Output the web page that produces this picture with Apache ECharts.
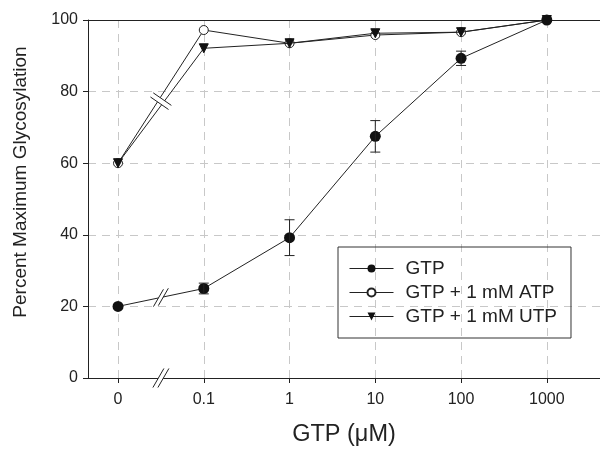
<!DOCTYPE html>
<html>
<head>
<meta charset="utf-8">
<script src="https://cdn.jsdelivr.net/npm/echarts@6/dist/echarts.min.js"></script>
<style>
  html, body { margin: 0; padding: 0; background: #fff; }
  #chart { width: 600px; height: 452px; }
</style>
</head>
<body>
<div id="chart"></div>
<script>
// x positions are evenly spaced (log steps), 0 sits left of an axis break
const xLabels = ['0', '0.1', '1', '10', '100', '1000']
const xPos = [0, 1, 2, 3, 4, 5]

const gtp = [20, 25, 39.2, 67.5, 89.3, 100]
const gtpErr = [0, 1.5, 5, 4.4, 2, 0]
const gtpAtp = [60, 97.2, 93.5, 95.8, 96.6, 100]
const gtpUtp = [60, 92.1, 93.5, 96.3, 96.6, 100]

const ink = '#222'
const font = 'Liberation Sans, Arial, sans-serif'

const chart = echarts.init(document.getElementById('chart'), null, { renderer: 'canvas' })

function pts(arr) {
  return arr.map((v, i) => [xPos[i], v])
}

const errData = gtp
  .map((v, i) => [xPos[i], v - gtpErr[i], v + gtpErr[i]])
  .filter((d, i) => gtpErr[i] > 0)

const option = {
  backgroundColor: '#fff',
  animation: false,
  textStyle: { fontFamily: font, color: ink },
  grid: { left: 88, right: -2, top: 20, bottom: 73 },
  legend: {
    orient: 'vertical',
    left: 338,
    top: 247,
    padding: [12, 14, 12, 11],
    itemGap: 5,
    itemWidth: 44,
    itemHeight: 10,
    borderColor: '#333',
    borderWidth: 1,
    lineStyle: { width: 1 },
    textStyle: { fontSize: 19, color: ink, padding: [0, 0, 0, 7] },
    data: ['GTP', 'GTP + 1 mM ATP', 'GTP + 1 mM UTP'],
  },
  xAxis: [
    {
      type: 'value',
      min: -0.35,
      max: 5.62,
      name: 'GTP (μM)',
      nameLocation: 'middle',
      nameGap: 45,
      nameTextStyle: { fontSize: 23.5, color: ink },
      axisLine: { lineStyle: { color: ink, width: 1 } },
      axisTick: { show: true, length: 5, lineStyle: { color: ink }, customValues: xPos },
      axisLabel: {
        fontSize: 16,
        color: ink,
        margin: 14,
        customValues: xPos,
        formatter: (v) => xLabels[Math.round(v)],
      },
      splitLine: { show: true, lineStyle: { color: '#c8c8c8', type: [8, 6] } },
    },
    {
      type: 'value',
      position: 'top',
      min: -0.35,
      max: 5.62,
      axisLine: { show: true, lineStyle: { color: ink, width: 1 } },
      axisTick: { show: false },
      axisLabel: { show: false },
      splitLine: { show: false },
    },
  ],
  yAxis: {
    type: 'value',
    min: 0,
    max: 100,
    interval: 20,
    name: 'Percent Maximum Glycosylation',
    nameLocation: 'middle',
    nameGap: 58,
    nameTextStyle: { fontSize: 19, color: ink, padding: [0, 0, 0, 34] },
    axisLine: { show: true, onZero: false, lineStyle: { color: ink, width: 1 } },
    axisTick: { show: true, length: 5, lineStyle: { color: ink } },
    axisLabel: { fontSize: 16, color: ink, margin: 10 },
    splitLine: { show: true, lineStyle: { color: '#c8c8c8', type: [8, 6] } },
  },
  series: [
    {
      name: 'GTP + 1 mM UTP',
      type: 'line',
      data: pts(gtpUtp),
      symbol: 'triangle',
      symbolRotate: 180,
      symbolSize: 9,
      lineStyle: { color: ink, width: 1 },
      itemStyle: { color: '#111', borderColor: '#111' },
      z: 3,
    },
    {
      name: 'GTP + 1 mM ATP',
      type: 'line',
      data: pts(gtpAtp),
      symbol: 'circle',
      symbolSize: 9,
      lineStyle: { color: ink, width: 1 },
      itemStyle: { color: '#fff', borderColor: ink, borderWidth: 1 },
      z: 2,
    },
    {
      name: 'GTP',
      type: 'line',
      data: pts(gtp),
      symbol: 'circle',
      symbolSize: 11,
      lineStyle: { color: ink, width: 1 },
      itemStyle: { color: '#111' },
      z: 4,
    },
    {
      name: 'err',
      type: 'custom',
      data: errData,
      z: 5,
      renderItem: (params, api) => {
        const lo = api.coord([api.value(0), api.value(1)])
        const hi = api.coord([api.value(0), api.value(2)])
        const w = 5
        const style = { stroke: ink, lineWidth: 1 }
        return {
          type: 'group',
          children: [
            { type: 'line', shape: { x1: lo[0], y1: lo[1], x2: hi[0], y2: hi[1] }, style },
            { type: 'line', shape: { x1: lo[0] - w, y1: lo[1], x2: lo[0] + w, y2: lo[1] }, style },
            { type: 'line', shape: { x1: hi[0] - w, y1: hi[1], x2: hi[0] + w, y2: hi[1] }, style },
          ],
        }
      },
    },
  ],
}

chart.setOption(option)

// break marks between 0 and 0.1
function breakMarks(p, angle, half, gap, lineAngle) {
  const els = []
  const dx = Math.cos(lineAngle) * gap / 2
  const dy = Math.sin(lineAngle) * gap / 2
  const ux = Math.cos(angle) * half
  const uy = Math.sin(angle) * half
  // white gap between the two strokes
  els.push({
    type: 'polygon',
    z: 50,
    shape: {
      points: [
        [p[0] - dx + ux, p[1] - dy + uy],
        [p[0] + dx + ux, p[1] + dy + uy],
        [p[0] + dx - ux, p[1] + dy - uy],
        [p[0] - dx - ux, p[1] - dy - uy],
      ],
    },
    style: { fill: '#fff' },
  })
  ;[-1, 1].forEach((s) => {
    els.push({
      type: 'line',
      z: 51,
      shape: {
        x1: p[0] + s * dx + ux, y1: p[1] + s * dy + uy,
        x2: p[0] + s * dx - ux, y2: p[1] + s * dy - uy,
      },
      style: { stroke: ink, lineWidth: 1 },
    })
  })
  return els
}

const mid = (xPos[0] + xPos[1]) / 2
const slash = -Math.PI / 3

const axisP = chart.convertToPixel({ gridIndex: 0 }, [mid, 0])
const gtpP = chart.convertToPixel({ gridIndex: 0 }, [mid, (gtp[0] + gtp[1]) / 2])
const g0 = chart.convertToPixel({ gridIndex: 0 }, [xPos[0], gtp[0]])
const g1 = chart.convertToPixel({ gridIndex: 0 }, [xPos[1], gtp[1]])
const a0 = chart.convertToPixel({ gridIndex: 0 }, [xPos[0], gtpAtp[0]])
const a1 = chart.convertToPixel({ gridIndex: 0 }, [xPos[1], (gtpAtp[1] + gtpUtp[1]) / 2])
const aAng = Math.atan2(a1[1] - a0[1], a1[0] - a0[0])
const aP = chart.convertToPixel({ gridIndex: 0 }, [mid, (gtpAtp[0] + (gtpAtp[1] + gtpUtp[1]) / 2) / 2])

const graphics = []
  .concat(breakMarks(axisP, slash, 11, 5, 0))
  .concat(breakMarks(gtpP, slash, 10, 5, Math.atan2(g1[1] - g0[1], g1[0] - g0[0])))
  .concat(breakMarks(aP, aAng + Math.PI / 2, 11, 5, aAng))

chart.setOption({ graphic: graphics })
</script>
</body>
</html>
